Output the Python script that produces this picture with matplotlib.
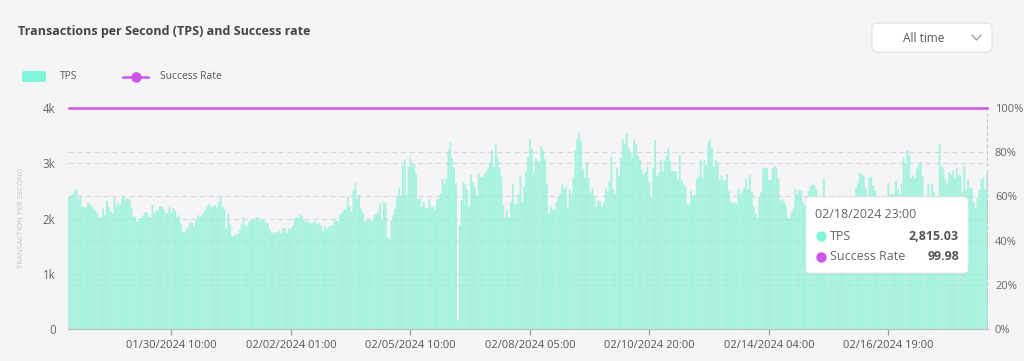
import matplotlib
matplotlib.use("Agg")
import matplotlib.pyplot as plt
from matplotlib.patches import FancyBboxPatch
from matplotlib.lines import Line2D
import numpy as np

plt.rcParams['font.family'] = ['Open Sans', 'DejaVu Sans']

# ---------------- data (hourly TPS) ----------------
tps = [
    2382, 2412, 2436, 2497, 2533, 2351, 2388, 2206, 2206, 2182,
    2285, 2260, 2230, 2176, 2145, 2091, 2012, 2024, 2182, 2060,
    2327, 2218, 2127, 2085, 2376, 2224, 2285, 2230, 2357, 2394,
    2351, 2363, 2339, 2194, 2036, 2036, 1939, 2000, 2000, 2054,
    2109, 2109, 2048, 2012, 2254, 2103, 2139, 2145, 2218, 2218,
    2169, 2103, 2103, 2206, 2097, 2182, 2145, 2024, 2060, 1903,
    1757, 1757, 1818, 1848, 1933, 1915, 1860, 1963, 2060, 2024,
    2060, 2109, 2145, 2218, 2260, 2218, 2212, 2242, 2182, 2303,
    2376, 2212, 2163, 1818, 2085, 1891, 1667, 1685, 1721, 1715,
    1788, 1891, 2024, 1879, 1854, 1939, 1970, 2000, 1963, 2012,
    2024, 1951, 1988, 1963, 1921, 1915, 1788, 1733, 1751, 1751,
    1757, 1776, 1733, 1830, 1812, 1739, 1818, 1812, 1866, 2012,
    2018, 2000, 2079, 2036, 1970, 1939, 1951, 1927, 1909, 1927,
    1939, 1891, 1921, 1866, 1770, 1866, 1818, 1848, 1866, 1879,
    1957, 1957, 1951, 2073, 2109, 2151, 2169, 2388, 2212, 2121,
    2509, 2648, 2376, 2430, 2176, 2103, 1951, 1970, 1970, 1963,
    1963,
    2060, 2079, 2121, 2273, 1988, 2303, 2273, 1660, 1624, 1970,
    2060, 2182, 2394, 2545, 2412, 2957, 3066, 2436, 2939, 3103,
    2969, 2988, 2806, 2345, 2363, 2212, 2303, 2182, 2182, 2345,
    2206, 2206, 2151, 2345, 2363, 2454, 2709, 2636, 2727, 3230,
    3375, 3091, 2921, 2636, 152, 1879, 2333, 2648, 2618, 2515,
    2212, 2788, 2654, 2576, 2412, 2812, 2757, 2751, 2800, 2848,
    2921, 3012, 3230, 2927, 3333, 3103, 2921, 2757, 2242, 2018,
    2151, 2012, 2303, 2624, 2273, 2266, 2442, 2775, 2303, 2576,
    2848,
    3103, 3442, 3260, 2836, 3091, 3042, 3030, 3303, 3236, 3072,
    2618, 2091, 2212, 2163, 2163, 2291, 2394, 2454, 2618, 2533,
    2576, 2206, 2527, 2436, 2745, 3230, 3442, 3557, 3406, 2897,
    2739, 3030, 2727, 2466, 2545, 2406, 2212, 2333, 2303, 2212,
    2285, 2545, 2485, 2679, 3115, 2533, 2436, 2921, 2775, 3097,
    3436, 3345, 3545, 3285, 3182, 3109, 3436, 3345, 3139, 3060,
    2891, 2788, 2848, 2939, 2654, 2376, 2909, 3418, 2775, 2830,
    3060, 2848, 3048, 3139, 3272, 3042, 2866, 2860, 2848, 2697,
    3151, 2697,
    2630, 2576, 2254, 2254, 2497, 2388, 2424, 2715, 2757, 3054,
    2739, 3054, 2969, 3369, 3430, 3272, 2939, 3060, 2982, 2691,
    2775, 2679, 2697, 2800, 2497, 2303, 2273, 2285, 2273, 2533,
    2454, 2497, 2557, 2715, 2533, 2788, 2485, 2212, 2091, 2012,
    2394, 2485, 2909, 2921, 2909, 2691, 2709, 2921, 2957, 2921,
    2727, 2333, 2351, 2303, 2230, 2000, 2000, 2121, 2182, 2533,
    2448, 2509, 2497, 2303, 2242, 2376, 2497, 2576, 2636, 2606,
    2533, 2412, 2300, 2250, 2739, 2300, 2250, 2200, 2250, 2300,
    2250, 2250, 2300, 2300, 2350, 2300, 2300, 2250, 2300, 2350,
    2380, 2560, 2640, 2820, 2800, 2780, 2550, 2410, 2740, 2760,
    2590, 2500, 2300, 2250, 2300, 2300, 2350, 2380, 2640, 2440,
    2440, 2440, 2680, 2520, 2440, 2630, 3100, 3000, 3240, 3150,
    2730, 2780, 2730, 2910, 2970, 3030, 2760, 2350, 2380, 2620,
    2400, 2620, 2480, 2400, 2350, 3360, 2940, 2900, 2720, 2630,
    2830, 2790, 2870, 2740, 2910, 2790, 2780, 2470, 2950, 2500,
    2700, 2550, 2550, 2300, 2190, 2380, 2520, 2700, 2740, 2520,
    2815.03,
]
success_rate = [99.98] * len(tps)

tick_labels = ["01/30/2024 10:00", "02/02/2024 01:00", "02/05/2024 10:00",
               "02/08/2024 05:00", "02/10/2024 20:00", "02/14/2024 04:00",
               "02/16/2024 19:00"]
first_label_index = 54
label_interval = 63

tps_ticks = [0, 1000, 2000, 3000, 4000]
tps_tick_labels = ["0", "1k", "2k", "3k", "4k"]
pct_ticks = [0, 20, 40, 60, 80, 100]

tooltip_time = "02/18/2024 23:00"
tooltip_tps = 2815.03
tooltip_rate = 99.98

# ---------------- figure ----------------
W, H = 1024, 361
BG = "#f5f5f5"
fig = plt.figure(figsize=(W / 100, H / 100), dpi=100, facecolor=BG)


def fx(px):
    return px / W


def fy(py):
    return 1 - py / H


ax = fig.add_axes([fx(68), fy(329), fx(988) - fx(68), fy(108) - fy(329)])
ax.set_facecolor("none")
n = len(tps)
x = np.arange(n)

ax.set_xlim(-0.5, n - 0.5)
ax.set_ylim(0, 4000)

grid_kw = dict(color="#d8d8e2", lw=0.9, ls=(0, (4, 3)), zorder=0)
for v in tps_ticks[1:-1]:
    ax.axhline(v, **grid_kw)
for p in pct_ticks[1:-1]:
    ax.axhline(p / 100 * 4000, **grid_kw)

bars = ax.bar(x, tps, width=1.0, color="#86f2d6", alpha=0.7, linewidth=0, zorder=2)
for b in bars:
    b.set_snap(False)

# axis pointer for hovered point
ax.axvline(n - 1, color="#c8c8c8", lw=0.9, ls=(0, (3, 2)), zorder=3)

for s in ["top", "left", "right"]:
    ax.spines[s].set_visible(False)
ax.spines["bottom"].set_color("#bdbdbd")
ax.spines["bottom"].set_linewidth(0.9)

ax.set_yticks(tps_ticks)
ax.set_yticklabels(tps_tick_labels)
ax.tick_params(axis="y", length=0, pad=9, labelsize=8.3, labelcolor="#666666")

tick_pos = [first_label_index + k * label_interval for k in range(len(tick_labels))]
ax.set_xticks(tick_pos)
ax.set_xticklabels(tick_labels)
ax.tick_params(axis="x", length=4, width=0.9, color="#9a9a9a", pad=4,
               labelsize=8.0, labelcolor="#555555")

ax2 = ax.twinx()
ax2.set_ylim(0, 100)
ax2.set_facecolor("none")
for s in ["top", "left", "right", "bottom"]:
    ax2.spines[s].set_visible(False)
ax2.plot(x, success_rate, color="#cc55e8", lw=1.8, zorder=5, clip_on=False)
ax2.set_yticks(pct_ticks)
ax2.set_yticklabels([f"{p}%" for p in pct_ticks])
ax2.tick_params(axis="y", length=0, pad=5, labelsize=8.0, labelcolor="#666666")

fig.text(fx(22), fy(218), "TRANSACTION PER SECOND", rotation=90, ha="center",
         va="center", fontsize=5.6, color="#c2c2c2")

# ---------------- overlay (title, legend, dropdown, tooltip) ----------------
ov = fig.add_axes([0, 0, 1, 1])
ov.set_xlim(0, W)
ov.set_ylim(H, 0)
ov.axis("off")
ov.set_facecolor("none")

ov.text(18, 32, "Transactions per Second (TPS) and Success rate", fontsize=9.0,
        fontweight="bold", color="#444444", va="center", ha="left")

# legend
ov.add_patch(FancyBboxPatch((22, 71), 24, 11, boxstyle="round,pad=0,rounding_size=2",
                            fc="#80f5da", ec="none"))
ov.text(60, 76.5, "TPS", fontsize=7.4, color="#555555", va="center", ha="left")
ov.add_line(Line2D([123, 148], [76.5, 76.5], color="#cc55e8", lw=1.8))
ov.plot([135.5], [76.5], marker="o", ms=6.5, color="#cc55e8", mec="#cc55e8")
ov.text(160, 76.5, "Success Rate", fontsize=7.4, color="#555555", va="center", ha="left")

# dropdown
ov.add_patch(FancyBboxPatch((872, 23), 120, 29, boxstyle="round,pad=0,rounding_size=6",
                            fc="white", ec="#e3e3e3", lw=0.9))
ov.text(924, 38, "All time", fontsize=8.6, color="#555555", va="center", ha="center")
ov.add_line(Line2D([972, 976.5, 981], [35, 40, 35], color="#999999", lw=0.9))

# tooltip
ov.add_patch(FancyBboxPatch((805, 196.5), 164, 78, boxstyle="round,pad=0,rounding_size=5",
                            fc="#000000", ec="none", alpha=0.04))
ov.add_patch(FancyBboxPatch((806, 197), 162, 76, boxstyle="round,pad=0,rounding_size=4",
                            fc="white", ec="#ececec", lw=0.8))
ov.text(815, 214, tooltip_time, fontsize=9.0, color="#666666", va="center", ha="left")
ov.plot([821], [236], marker="o", ms=6.5, color="#80f5da", mec="#80f5da")
ov.text(830, 236, "TPS", fontsize=9.0, color="#666666", va="center", ha="left")
ov.text(959, 236, f"{tooltip_tps:,.2f}", fontsize=9.0, color="#555555",
        fontweight="bold", va="center", ha="right")
ov.plot([821], [257], marker="o", ms=6.5, color="#cc55e8", mec="#cc55e8")
ov.text(830, 257, "Success Rate", fontsize=9.0, color="#666666", va="center", ha="left")
ov.text(959, 257, f"{tooltip_rate:.2f}", fontsize=9.0, color="#555555",
        fontweight="bold", va="center", ha="right")

fig.savefig("out.png", dpi=100, facecolor=BG)
